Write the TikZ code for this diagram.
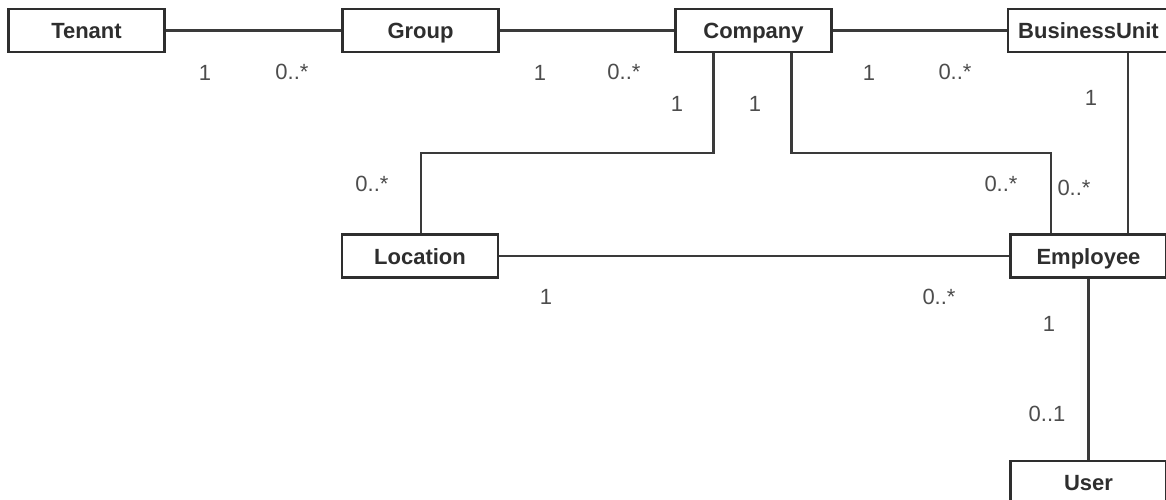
\documentclass[tikz,border=0pt]{standalone}
\usepackage{fontspec}
\setmainfont{Liberation Sans}
\definecolor{ink}{HTML}{2E2E2E}
\definecolor{wire}{HTML}{3A3A3A}
\tikzset{
  entity/.style={draw=ink, line width=2.2pt, fill=white, minimum width=156pt, minimum height=43pt,
    inner sep=0pt, text height=16pt, text depth=0pt, font=\fontsize{22}{26}\selectfont\bfseries, text=ink},
  mult/.style={inner sep=0pt, text height=16pt, text depth=0pt, font=\fontsize{22}{26}\selectfont, text=ink!85},
  assoc/.style={draw=wire, line width=2.2pt}
}
\begin{document}
\begin{tikzpicture}[x=1pt,y=-1pt]
\useasboundingbox (0,0) rectangle (1166,500);
\clip (0,0) rectangle (1166,500);
% routing coordinates
\coordinate (cl) at (421,153);
\coordinate (ce) at (1051,153);
\coordinate (bux) at (1128,0);
% entities
\node[entity] (tenant)   at (86.5,30.5)  {Tenant};
\node[entity] (group)    at (420.5,30.5) {Group};
\node[entity] (company)  at (753.5,30.5) {Company};
\node[entity, minimum width=161pt] (bu) at (1088.5,30.5) {BusinessUnit};
\node[entity] (location) at (420,256)    {Location};
\node[entity] (employee) at (1088.5,256) {Employee};
\node[entity] (user)     at (1088.5,482.5) {User};
% connectors
\draw[assoc] (tenant) -- (group);
\draw[assoc] (group) -- (company);
\draw[assoc] (company) -- (bu);
\draw[assoc] (company.south west) ++(39,0) |- (cl) -- (cl |- location.north);
\draw[assoc] (company.south west) ++(117,0) |- (ce) -- (ce |- employee.north);
\draw[assoc] (bu.south -| bux) -- (employee.north -| bux);
\draw[assoc] (location) -- (employee);
\draw[assoc] (employee.south) -- (user.north);
% multiplicities
\node[mult] (m1)  at (205,73)  {1};
\node[mult] (m2)  at (292,72)  {0..*};
\node[mult] (m3)  at (540,73)  {1};
\node[mult] (m4)  at (624,72)  {0..*};
\node[mult] (m5)  at (677,104) {1};
\node[mult] (m6)  at (755,103) {1};
\node[mult] (m7)  at (869,73)  {1};
\node[mult] (m8)  at (955,72)  {0..*};
\node[mult] (m9)  at (1091,98) {1};
\node[mult] (m10) at (372,183) {0..*};
\node[mult] (m11) at (1001,183) {0..*};
\node[mult] (m12) at (1074,187) {0..*};
\node[mult] (m13) at (546,296) {1};
\node[mult] (m14) at (939,296) {0..*};
\node[mult] (m15) at (1049,323) {1};
\node[mult] (m16) at (1047,413) {0..1};
\end{tikzpicture}
\end{document}
